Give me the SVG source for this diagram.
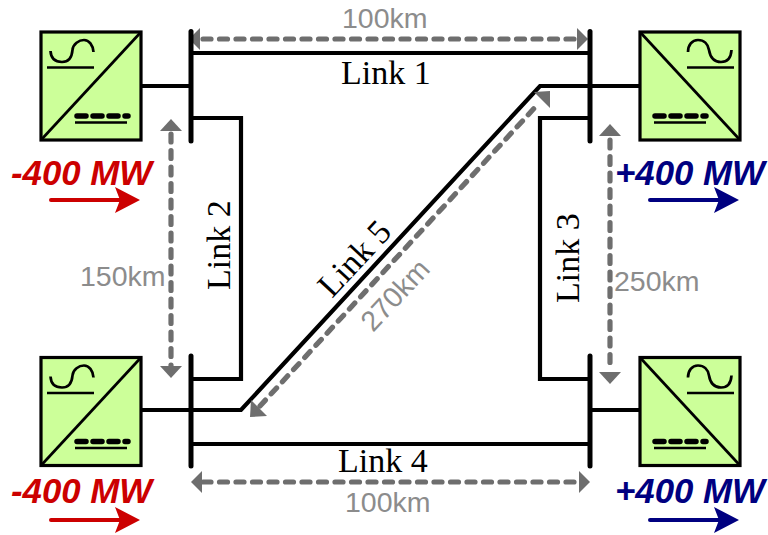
<svg xmlns="http://www.w3.org/2000/svg" width="768" height="535" viewBox="0 0 768 535">
<style>
.box{fill:#ccff99;stroke:#000;stroke-width:3.2}
.thin{fill:none;stroke:#000;stroke-width:2.7}
.dots{fill:none;stroke:#000;stroke-width:5.5;stroke-linecap:round;stroke-dasharray:9 7}
.wire{fill:none;stroke:#000;stroke-width:4.2;stroke-linejoin:miter}
.bus{fill:none;stroke:#000;stroke-width:5;stroke-linecap:round}
.dim{fill:none;stroke:#6e6e6e;stroke-width:5.2;stroke-linecap:round;stroke-dasharray:8 8.500}
.head{fill:#6e6e6e}
.link{font-family:"Liberation Serif",serif;font-size:34px;fill:#000}
.km{font-family:"Liberation Sans",sans-serif;font-size:28.500px;fill:#8c8c8c}
.mw{font-family:"Liberation Sans",sans-serif;font-size:34.800px;font-weight:bold;font-style:italic}
</style>
<defs>
<g id="conv-l">
<rect class="box" x="41" y="32" width="100" height="108"/>
<path class="thin" d="M41 140L141 32"/>
<path class="thin" d="M50.500 51C51 60 57 62 62 62C70 62 72 56 72.500 50C73 44 79 40 84 40C89 40 93 45 93.500 52"/>
<path class="thin" d="M47 67.500H94"/>
<path class="dots" d="M77 116H128"/>
<path class="thin" d="M75 122.500H127"/>
</g>
<g id="conv-r">
<rect class="box" x="640" y="32" width="100" height="108"/>
<path class="thin" d="M640 32L740 140"/>
<path class="thin" d="M688 52C688 45 692 40 698 40C704 40 708 44 709 50C710 56 713 62 721 62C727 62 731 58 731.500 50"/>
<path class="thin" d="M687 67.500H734"/>
<path class="dots" d="M655 116H706"/>
<path class="thin" d="M654 122.500H706"/>
</g>
</defs>
<g id="connectors">
<path class="wire" d="M141 86H191"/>
<path class="wire" d="M191 53H590"/>
<path class="wire" d="M191 118H241V379H191"/>
<path class="wire" d="M141 410H241L540 86H640"/>
<path class="wire" d="M590 118H540V379H590"/>
<path class="wire" d="M590 410H640"/>
<path class="wire" d="M191 444H590"/>
<path class="dim" d="M203 39H574"/>
<path class="head" d="M189 39L200 28V50Z"/>
<path class="head" d="M588 39L577 28V50Z"/>
<path class="dim" d="M203 482H576"/>
<path class="head" d="M191 482L202 471V493Z"/>
<path class="head" d="M590 482L579 471V493Z"/>
<path class="dim" d="M171 134V366"/>
<path class="head" d="M171 119L182 131H160Z"/>
<path class="head" d="M171 378L160 366H182Z"/>
<path class="dim" d="M610 140V371"/>
<path class="head" d="M610 124L621 136H599Z"/>
<path class="head" d="M610 384L599 372H621Z"/>
<path class="dim" d="M260 406L539 103"/>
<path class="head" d="M550 91L550 108L534 92Z"/>
<path class="head" d="M250 417L251 400L267 416Z"/>
</g>
<g id="converter-1"><use href="#conv-l"/></g>
<g id="converter-2"><use href="#conv-r"/></g>
<g id="converter-3"><use href="#conv-l" y="325.500"/></g>
<g id="converter-4"><use href="#conv-r" y="325.500"/></g>
<g id="buses">
<path class="bus" d="M191 31.500V141"/>
<path class="bus" d="M590 31.500V141"/>
<path class="bus" d="M191 356V466"/>
<path class="bus" d="M590 356V466"/>
</g>
<g id="flow-1">
<text class="mw" x="11" y="185" fill="#cc0000">-400 MW</text>
<path d="M51 200H125" stroke="#cc0000" stroke-width="4" stroke-linecap="round" fill="none"/>
<path d="M115 187L140 200L115 213L120 200Z" fill="#cc0000"/>
</g>
<g id="flow-2">
<text class="mw" x="615" y="185" fill="#000080">+400 MW</text>
<path d="M650 200H725" stroke="#000080" stroke-width="4" stroke-linecap="round" fill="none"/>
<path d="M714 187L739 200L714 213L719 200Z" fill="#000080"/>
</g>
<g id="flow-3">
<text class="mw" x="11" y="503" fill="#cc0000">-400 MW</text>
<path d="M51 520H125" stroke="#cc0000" stroke-width="4" stroke-linecap="round" fill="none"/>
<path d="M115 507L140 520L115 533L120 520Z" fill="#cc0000"/>
</g>
<g id="flow-4">
<text class="mw" x="615" y="503" fill="#000080">+400 MW</text>
<path d="M650 520H725" stroke="#000080" stroke-width="4" stroke-linecap="round" fill="none"/>
<path d="M714 507L739 520L714 533L719 520Z" fill="#000080"/>
</g>
<g id="labels">
<text class="km" x="342" y="28">100km</text>
<text class="km" x="345" y="512">100km</text>
<text class="km" x="80" y="286">150km</text>
<text class="km" x="614" y="291">250km</text>
<text class="km" transform="translate(373 333) rotate(-47)">270km</text>
<text class="link" x="341" y="84">Link 1</text>
<text class="link" x="338" y="472">Link 4</text>
<text class="link" transform="translate(230 290) rotate(-90)">Link 2</text>
<text class="link" transform="translate(579 303) rotate(-90)">Link 3</text>
<text class="link" transform="translate(332 299) rotate(-47)">Link 5</text>
</g>
</svg>
